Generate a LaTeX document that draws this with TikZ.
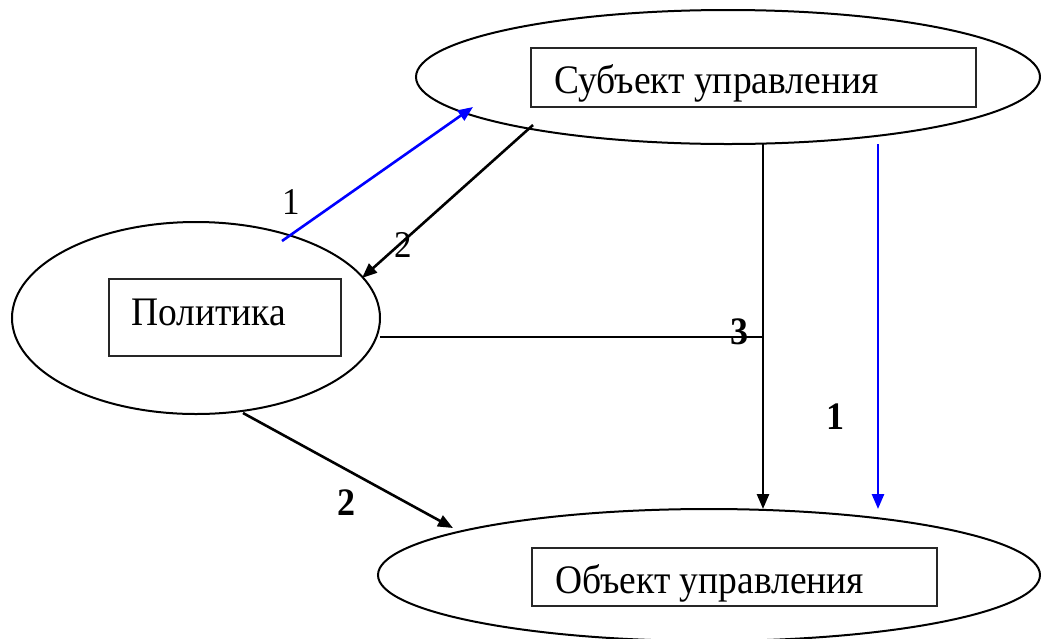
\documentclass[tikz,border=0pt]{standalone}
\usepackage{fontspec}
\setmainfont{Liberation Serif}
\usetikzlibrary{shapes.geometric,arrows.meta}
\newcommand{\tallish}[1]{\scalebox{1}[1.08]{#1}}
\begin{document}
\begin{tikzpicture}[x=1pt,y=-1pt,
  ell/.style={ellipse,draw,line width=2pt,inner sep=0pt,outer sep=0pt},
  box/.style={rectangle,draw=black!85,line width=1.4pt,inner sep=0pt,outer sep=0pt},
  lbl/.style={font=\fontsize{37.5}{40}\selectfont,inner sep=0pt},
  num/.style={font=\fontsize{35}{38}\selectfont,inner sep=0pt},
  bnum/.style={font=\fontsize{36}{38}\selectfont\bfseries,inner sep=0pt},
  conn/.style={line width=2.6pt},
  tip/.style={-{Triangle[length=15pt,width=12pt]}},
]
\useasboundingbox (0,0) rectangle (1041,638);
% ellipses
\node[ell,minimum width=624,minimum height=134] (sub) at (728,77) {};
\node[ell,minimum width=368,minimum height=192] (pol) at (196,318) {};
\node[ell,minimum width=662,minimum height=132] (obj) at (709,575) {};
% boxes
\node[box,minimum width=445,minimum height=59] (subbox) at (753.5,77.5) {};
\node[box,minimum width=232,minimum height=77] (polbox) at (225,317.5) {};
\node[box,minimum width=405,minimum height=58] (objbox) at (734.5,577) {};
% texts
\node[lbl,anchor=base west] (subtxt) at (554,93) {\tallish{Субъект управления}};
\node[lbl,anchor=base west] (poltxt) at (131,325) {\tallish{Политика}};
\node[lbl,anchor=base west] (objtxt) at (555,593) {\tallish{Объект управления}};
% connector end points
\coordinate (b1s) at (282,241);
\coordinate (b1e) at (473,107);
\coordinate (k2s) at (533,125);
\coordinate (k2e) at (362,278);
\coordinate (kvs) at (763,144);
\coordinate (kve) at (763,509);
\coordinate (bvs) at (878,144);
\coordinate (bve) at (878,509);
\coordinate (hs) at (380,337);
\coordinate (he) at (763,337);
\coordinate (d2s) at (243,413);
\coordinate (d2e) at (453,528);
% connectors
\draw[conn,blue,tip] (b1s) -- (b1e);
\draw[conn,tip] (k2s) -- (k2e);
\draw[conn,tip] (kvs) -- (kve);
\draw[conn,blue,tip] (bvs) -- (bve);
\draw[conn] (hs) -- (he);
\draw[conn,tip] (d2s) -- (d2e);
% labels
\node[num] (l1) at (291,202) {\tallish{1}};
\node[num] (l2) at (403,245) {\tallish{2}};
\node[bnum] (l3) at (739,332) {\tallish{3}};
\node[bnum] (l4) at (835,417) {\tallish{1}};
\node[bnum] (l5) at (346,503) {\tallish{2}};
\end{tikzpicture}
\end{document}
